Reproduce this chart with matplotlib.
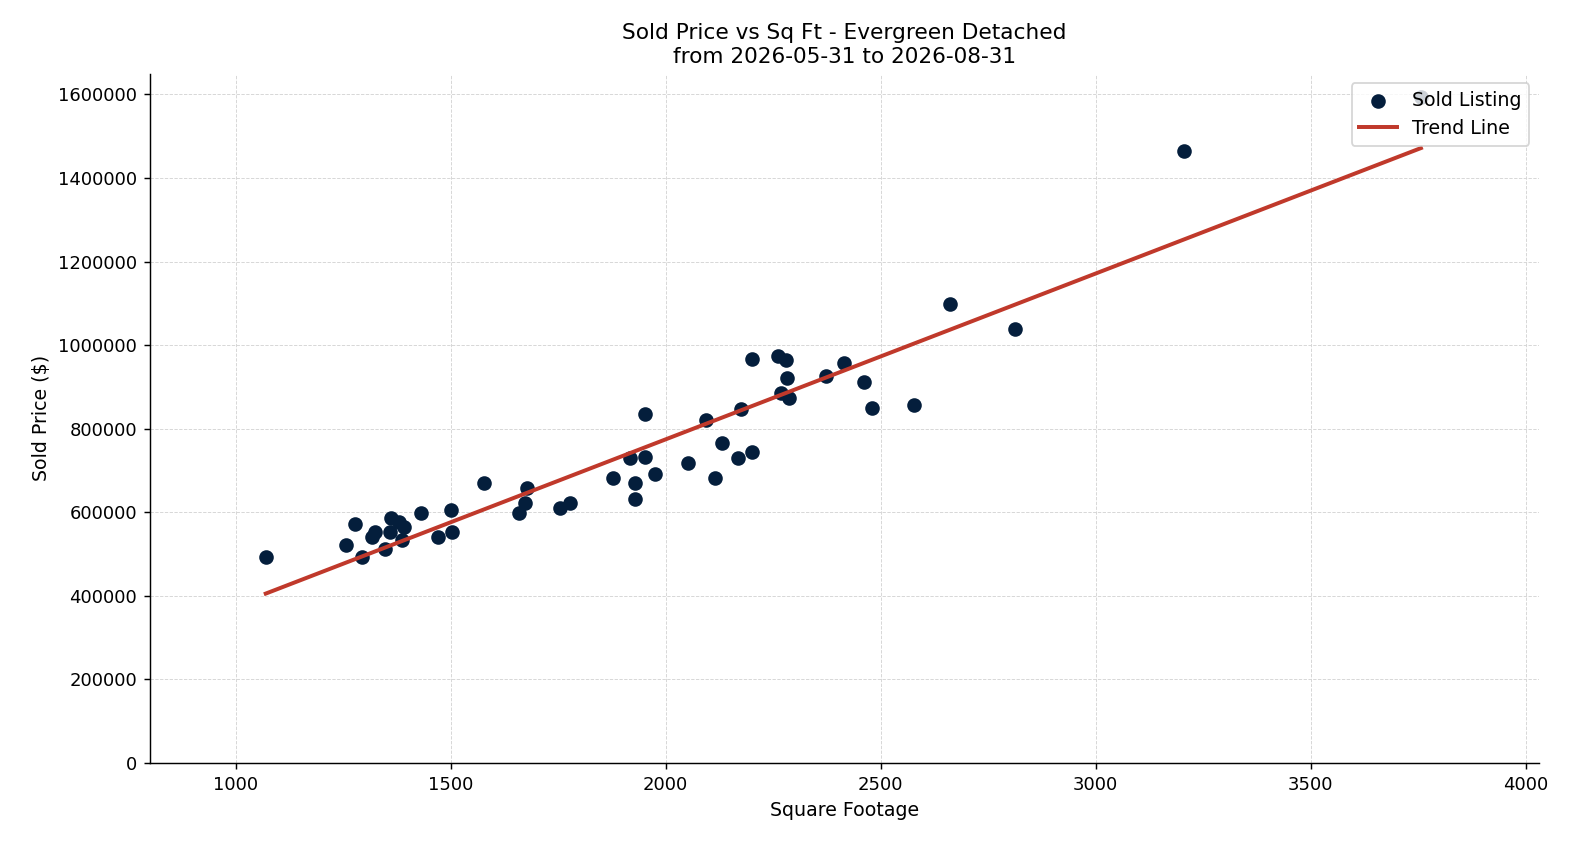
import numpy as np
import matplotlib
matplotlib.use("Agg")
import matplotlib.pyplot as plt

sqft = [1070,1256,1277,1293,1316,1325,1360,1362,1379,1391,1386,1348,1430,1470,1500,1503,
        1577,1677,1672,1659,1754,1777,1952,1877,1917,1952,1929,1975,1928,2052,2115,2093,
        2131,2168,2201,2175,2201,2261,2280,2282,2268,2287,2373,2415,2462,2480,2578,2662,
        2811,3206,3756]
price = [492000,522000,572000,492000,541000,554000,552000,586000,576000,566000,533000,512000,
         598000,540000,605000,553000,670000,658000,622000,598000,610000,622000,836000,681000,
         731000,733000,671000,691000,632000,719000,683000,821000,767000,731000,744000,846000,
         968000,974000,965000,922000,886000,874000,926000,958000,912000,849000,856000,1098000,
         1038000,1464000,1593000]

x = np.array(sqft, float); y = np.array(price, float)
m, b = np.polyfit(x, y, 1)
xl = np.array([x.min(), x.max()])

fig, ax = plt.subplots(figsize=(1575/130, 845/130), dpi=130)
ax.scatter(x, y, s=50, color="#041e3c", label="Sold Listing", zorder=3)
ax.plot(xl, m*xl + b, color="#c0392b", lw=2.2, label="Trend Line", zorder=4)
ax.set_xlim(800, 4030)
ax.set_ylim(0, 1650000)
ax.set_yticks(np.arange(0, 1600001, 200000))
ax.ticklabel_format(style="plain", axis="y")
ax.grid(True, ls="--", lw=0.5, color="#d5d5d5")
ax.set_axisbelow(True)
for s in ["top", "right"]:
    ax.spines[s].set_visible(False)
ax.tick_params(labelsize=10)
ax.set_xlabel("Square Footage", fontsize=10.5)
ax.set_ylabel("Sold Price ($)", fontsize=10.5)
ax.set_title("Sold Price vs Sq Ft - Evergreen Detached\nfrom 2026-05-31 to 2026-08-31", fontsize=12)
ax.legend(loc="upper right", fontsize=10.5)
fig.subplots_adjust(left=0.095, right=0.977, top=0.913, bottom=0.097)
fig.savefig("out.png", dpi=130)
